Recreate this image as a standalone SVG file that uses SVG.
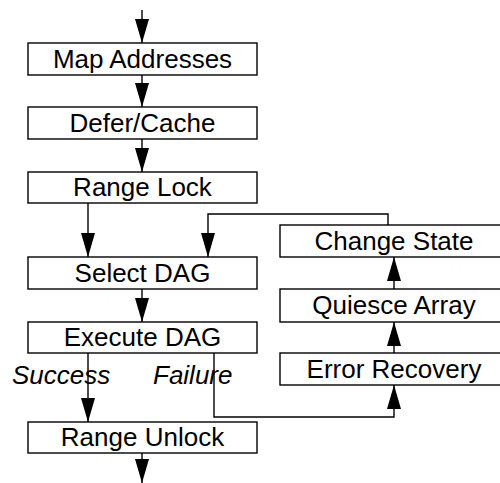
<svg xmlns="http://www.w3.org/2000/svg" width="500" height="483" viewBox="0 0 500 483">
<style>
.box{fill:#fff;stroke:#000;stroke-width:1.4}
.lbl{font-family:"Liberation Sans",Arial,sans-serif;font-size:26px;fill:#000;text-anchor:middle}
.it{font-family:"Liberation Sans",Arial,sans-serif;font-size:26px;font-style:italic;fill:#000}
.c{fill:none;stroke:#000;stroke-width:1.4}
</style>
<defs>
<marker id="ah" markerUnits="userSpaceOnUse" markerWidth="24" markerHeight="14" refX="24" refY="7" orient="auto" viewBox="0 0 24 14">
<path d="M0,0 L24,7 L0,14 Z" fill="#000"/>
</marker>
</defs>
<rect width="500" height="483" fill="#fff"/>
<g id="connectors">
<line class="c" x1="142" y1="10" x2="142" y2="43" marker-end="url(#ah)"/>
<line class="c" x1="142" y1="75" x2="142" y2="107" marker-end="url(#ah)"/>
<line class="c" x1="142" y1="139" x2="142" y2="172" marker-end="url(#ah)"/>
<line class="c" x1="88" y1="203" x2="88" y2="257" marker-end="url(#ah)"/>
<line class="c" x1="142" y1="289" x2="142" y2="322" marker-end="url(#ah)"/>
<line class="c" x1="88" y1="353" x2="88" y2="422" marker-end="url(#ah)"/>
<line class="c" x1="142" y1="453" x2="142" y2="483" marker-end="url(#ah)"/>
<polyline class="c" points="214,353 214,417 394,417 394,385" marker-end="url(#ah)"/>
<line class="c" x1="394" y1="353" x2="394" y2="322" marker-end="url(#ah)"/>
<line class="c" x1="394" y1="289" x2="394" y2="257" marker-end="url(#ah)"/>
<polyline class="c" points="388,225 388,214 208,214 208,257" marker-end="url(#ah)"/>
</g>
<g id="map"><rect class="box" x="28" y="43" width="229" height="32"/><text class="lbl" x="142.5" y="68">Map Addresses</text></g>
<g id="defer"><rect class="box" x="28" y="107" width="229" height="32"/><text class="lbl" x="142.5" y="132">Defer/Cache</text></g>
<g id="lock"><rect class="box" x="28" y="172" width="229" height="31"/><text class="lbl" x="142.5" y="196">Range Lock</text></g>
<g id="select"><rect class="box" x="28" y="257" width="229" height="32"/><text class="lbl" x="142.5" y="282">Select DAG</text></g>
<g id="execute"><rect class="box" x="28" y="322" width="229" height="31"/><text class="lbl" x="142.5" y="346">Execute DAG</text></g>
<g id="unlock"><rect class="box" x="28" y="422" width="229" height="31"/><text class="lbl" x="142.5" y="446">Range Unlock</text></g>
<g id="change"><rect class="box" x="280" y="225" width="228" height="32"/><text class="lbl" x="394" y="250">Change State</text></g>
<g id="quiesce"><rect class="box" x="280" y="289" width="228" height="33"/><text class="lbl" x="394" y="314">Quiesce Array</text></g>
<g id="recovery"><rect class="box" x="280" y="353" width="228" height="32"/><text class="lbl" x="394" y="378">Error Recovery</text></g>
<g id="labels">
<text class="it" x="12" y="384">Success</text>
<text class="it" x="153" y="384">Failure</text>
</g>
</svg>
